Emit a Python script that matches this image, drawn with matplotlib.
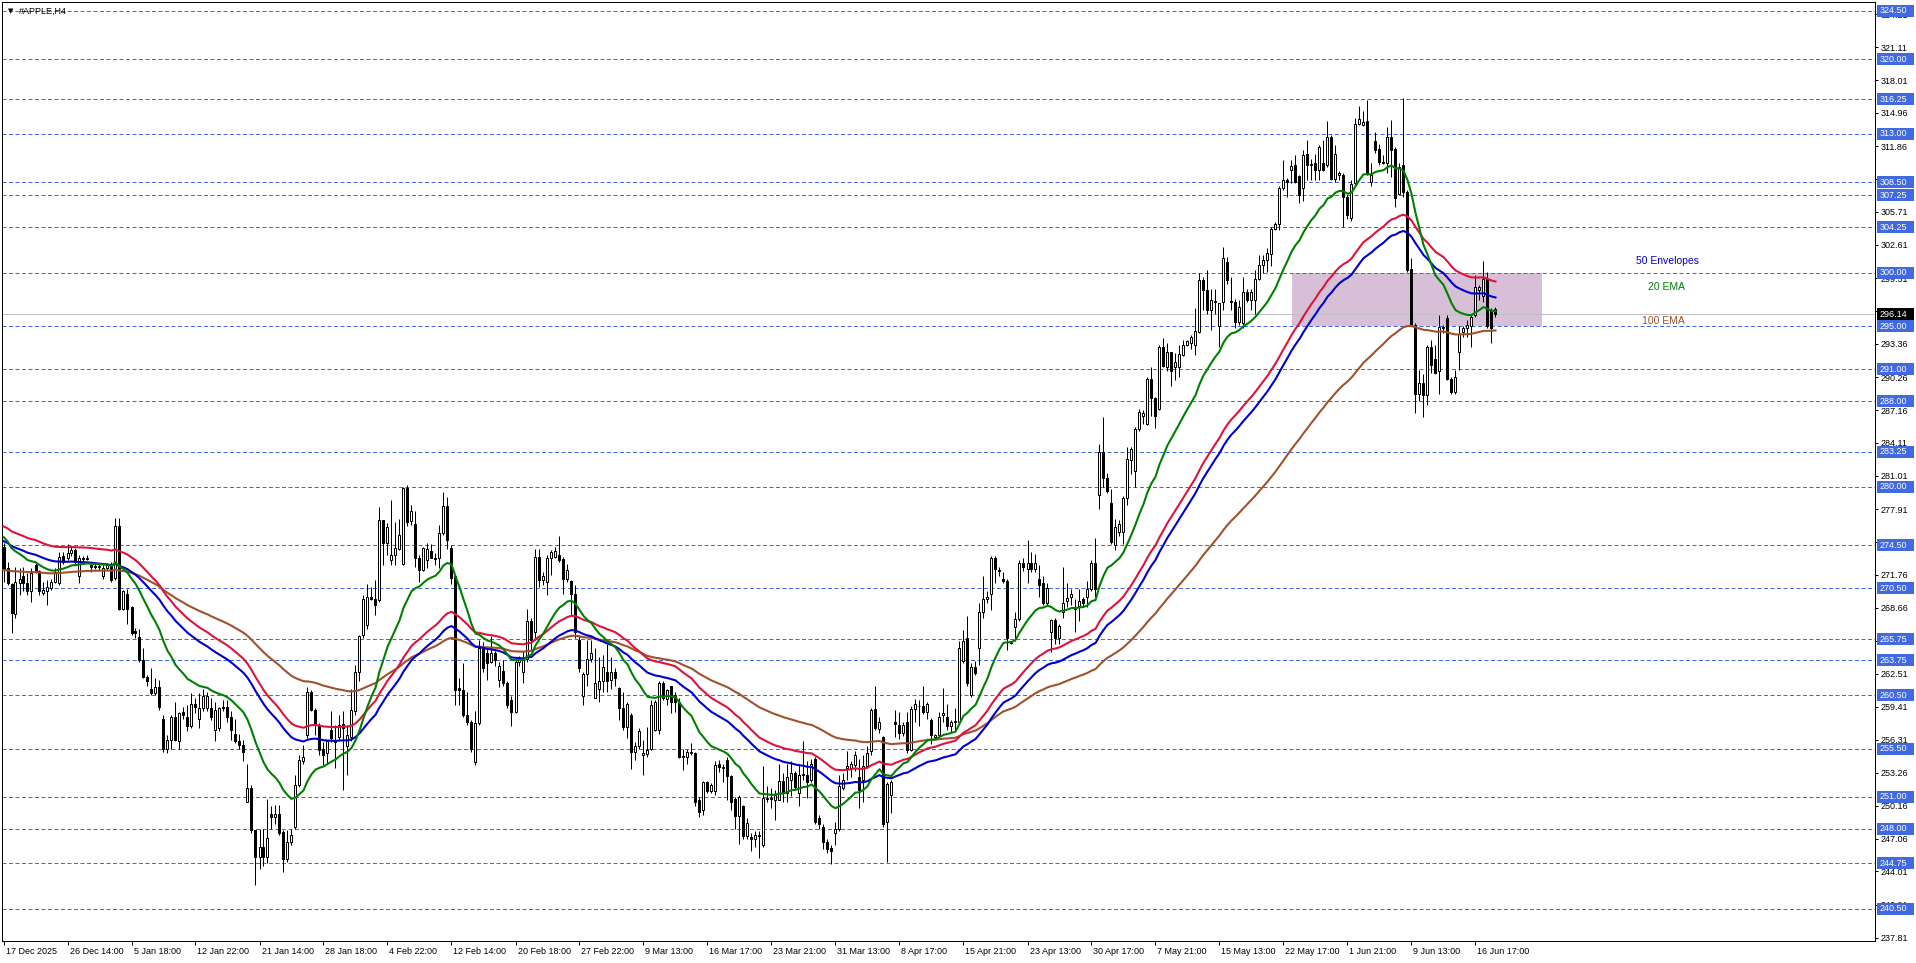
"""
plot.py - #APPLE,H4 MT4-style candlestick chart with 20 EMA, 50 Envelopes
and 100 EMA, horizontal level lines and a shaded supply/demand zone.
"""

import numpy as np
import matplotlib
matplotlib.use('Agg')
import matplotlib.pyplot as plt
import matplotlib.transforms as mtransforms
from matplotlib.patches import Rectangle

plt.rcParams['font.family'] = ['Liberation Sans', 'DejaVu Sans']

# ── Data (one H4 bar per entry) ──────────────────────────────────────────────

opens = [
    274.4, 272.4, 270.9, 268.1, 271.0, 271.6, 271.0, 270.2, 272.7, 272.1,
    270.1, 270.2, 270.5, 271.1, 271.0, 273.5, 273.3, 273.8, 274.1, 271.6,
    273.2, 273.3, 272.7, 272.6, 272.5, 271.6, 272.4, 272.8, 271.5, 276.3,
    268.6, 270.0, 268.7, 266.5, 265.9, 263.8, 262.2, 261.1, 260.7, 261.3,
    258.3, 255.5, 256.3, 258.5, 256.2, 258.9, 258.5, 257.6, 259.7, 258.3,
    259.3, 259.3, 259.3, 257.2, 257.4, 259.4, 259.4, 258.5, 256.9, 256.2,
    255.8, 250.5, 251.8, 247.9, 245.4, 246.3, 245.4, 249.4, 249.1, 249.4,
    247.7, 245.2, 246.8, 248.2, 252.1, 254.3, 256.8, 260.8, 259.1, 257.7,
    255.5, 255.1, 257.2, 256.1, 256.6, 257.8, 255.7, 256.6, 259.0, 262.7,
    266.1, 267.1, 269.7, 269.5, 269.4, 276.9, 274.7, 273.1, 273.6, 274.2,
    272.8, 279.9, 276.8, 276.5, 273.3, 272.2, 273.1, 274.0, 273.3, 273.3,
    275.7, 278.2, 274.3, 271.6, 261.2, 261.0, 258.6, 258.0, 254.2, 257.9,
    265.0, 264.4, 263.6, 264.4, 261.9, 262.8, 261.6, 260.0, 258.9, 263.6,
    262.7, 263.9, 267.4, 266.4, 273.4, 271.3, 271.1, 273.3, 273.4, 273.6,
    273.2, 271.4, 271.2, 270.0, 265.7, 260.4, 262.5, 263.9, 260.2, 261.1,
    261.8, 262.7, 261.9, 262.7, 261.2, 259.3, 257.5, 258.6, 255.2, 255.7,
    254.9, 255.0, 255.5, 257.2, 257.2, 261.6, 260.1, 261.4, 260.5, 259.9,
    254.8, 254.7, 255.1, 255.1, 250.7, 249.8, 252.4, 251.5, 251.5, 254.1,
    253.7, 254.4, 252.9, 250.8, 249.2, 250.1, 247.3, 247.2, 247.0, 247.4,
    246.5, 250.9, 250.9, 250.7, 250.7, 252.5, 251.3, 252.6, 253.2, 251.3,
    253.0, 253.0, 252.6, 254.5, 249.0, 248.2, 246.8, 246.2, 247.6, 248.0,
    251.8, 253.7, 253.7, 254.0, 252.8, 252.6, 253.9, 255.3, 259.2, 257.3,
    256.6, 248.6, 251.2, 258.0, 257.7, 257.0, 258.0, 255.4, 259.2, 259.5,
    259.5, 258.9, 258.2, 256.6, 256.8, 258.6, 258.5, 257.6, 258.0, 258.0,
    263.7, 265.8, 260.5, 263.1, 264.9, 268.3, 269.5, 270.0, 273.3, 272.2,
    271.4, 271.2, 265.4, 266.9, 267.6, 272.9, 272.3, 272.9, 272.3, 271.4,
    271.0, 269.1, 266.4, 267.5, 265.8, 268.3, 269.3, 269.7, 268.7, 268.8,
    269.5, 269.7, 270.4, 272.9, 279.2, 283.2, 280.8, 278.5, 274.5, 275.8,
    275.8, 278.9, 282.5, 281.5, 285.4, 286.6, 285.9, 290.1, 288.3, 287.3,
    293.1, 291.2, 292.6, 291.2, 291.2, 292.3, 293.3, 293.4, 293.3, 294.5,
    299.3, 298.4, 296.5, 297.3, 295.0, 297.3, 301.0, 297.4, 297.3, 295.4,
    295.3, 298.2, 297.5, 297.5, 299.4, 300.7, 301.2, 301.8, 304.1, 304.6,
    307.9, 308.7, 309.6, 310.1, 309.1, 307.9, 311.1, 310.1, 310.3, 309.6,
    310.3, 310.1, 312.7, 308.8, 309.2, 309.2, 307.1, 305.1, 308.4, 313.9,
    313.8, 314.2, 308.5, 312.3, 311.6, 310.4, 310.3, 312.7, 311.6, 307.4,
    310.1, 307.6, 300.4, 295.1, 288.7, 289.7, 288.6, 293.1, 291.9, 290.8,
    294.8, 295.8, 290.1, 288.9, 292.6, 294.5, 294.8, 295.0, 296.1, 298.4,
    297.8, 299.4, 296.5, 296.6,
]

highs = [
    274.7, 273.0, 271.0, 272.5, 272.4, 272.5, 271.9, 272.4, 273.0, 272.2,
    271.1, 271.3, 271.4, 272.4, 273.9, 273.9, 274.6, 274.4, 274.3, 273.6,
    273.5, 273.6, 273.0, 272.9, 272.8, 272.7, 272.8, 273.0, 277.1, 277.1,
    270.3, 270.4, 268.8, 266.8, 266.7, 264.9, 262.4, 263.0, 262.1, 261.9,
    258.6, 256.8, 258.6, 259.9, 258.9, 259.4, 259.6, 260.7, 260.2, 260.7,
    261.1, 260.8, 260.2, 259.9, 259.4, 260.0, 260.0, 259.0, 258.3, 256.9,
    256.3, 254.1, 252.1, 247.9, 248.0, 248.0, 250.8, 250.1, 250.2, 250.2,
    247.9, 247.9, 248.0, 253.0, 254.9, 255.8, 261.3, 261.0, 259.3, 257.9,
    256.1, 256.3, 259.0, 257.7, 258.6, 259.0, 257.7, 261.1, 263.3, 266.1,
    269.9, 270.9, 270.6, 271.3, 278.1, 276.9, 276.6, 278.8, 276.7, 277.0,
    280.0, 280.2, 278.3, 277.7, 273.6, 274.4, 274.7, 274.6, 273.8, 276.4,
    279.5, 279.0, 274.5, 271.7, 262.1, 263.5, 260.8, 258.2, 259.0, 265.7,
    265.5, 265.0, 266.0, 264.6, 263.6, 263.8, 261.8, 260.4, 263.9, 264.2,
    264.6, 268.6, 267.7, 274.2, 274.2, 272.0, 273.6, 274.1, 274.4, 275.4,
    273.4, 272.8, 271.3, 270.8, 266.1, 262.7, 265.7, 265.7, 264.9, 264.1,
    264.3, 265.3, 264.1, 263.0, 261.3, 260.8, 259.9, 258.8, 256.1, 257.4,
    256.3, 257.5, 260.0, 260.0, 261.8, 261.8, 261.1, 261.4, 260.8, 260.2,
    255.5, 255.5, 256.0, 255.2, 251.0, 252.5, 252.5, 252.3, 254.3, 254.4,
    254.1, 254.7, 253.0, 251.0, 251.2, 250.2, 249.0, 247.6, 247.8, 247.8,
    253.9, 252.0, 251.8, 251.6, 254.1, 253.2, 254.1, 254.3, 253.4, 254.1,
    256.2, 254.3, 254.5, 254.7, 249.3, 248.4, 247.0, 246.5, 248.6, 253.0,
    253.2, 255.3, 254.3, 255.3, 254.5, 254.9, 255.7, 259.3, 261.4, 258.5,
    256.7, 252.4, 252.6, 259.1, 258.9, 258.0, 258.9, 259.5, 260.1, 260.0,
    261.4, 259.9, 258.4, 256.9, 258.9, 261.2, 259.7, 258.2, 259.3, 265.6,
    266.6, 267.9, 263.5, 263.7, 269.1, 271.6, 270.2, 273.5, 273.5, 272.5,
    272.0, 271.4, 265.6, 268.3, 273.1, 273.3, 275.0, 273.9, 273.7, 272.7,
    271.6, 271.0, 267.6, 267.7, 267.2, 272.5, 271.0, 270.4, 269.5, 270.4,
    269.7, 271.2, 273.1, 275.2, 284.0, 286.5, 281.3, 279.8, 277.0, 276.9,
    279.1, 283.7, 283.7, 285.6, 287.3, 287.2, 290.3, 291.2, 288.4, 293.3,
    293.9, 293.4, 292.6, 292.5, 293.3, 293.7, 293.7, 294.2, 296.7, 300.0,
    299.6, 300.3, 298.5, 298.5, 297.2, 302.4, 301.5, 299.6, 297.6, 297.5,
    299.6, 298.5, 298.5, 300.3, 301.7, 301.7, 302.3, 304.3, 304.8, 308.1,
    310.6, 308.9, 310.6, 311.0, 309.2, 311.5, 312.4, 310.7, 311.1, 312.0,
    312.4, 314.2, 312.9, 312.0, 309.5, 309.3, 307.4, 308.7, 314.5, 315.6,
    315.1, 316.2, 310.3, 313.2, 312.1, 311.0, 313.6, 314.3, 311.8, 310.3,
    316.4, 307.8, 301.4, 295.3, 290.9, 290.5, 293.3, 293.7, 293.3, 296.1,
    295.1, 296.1, 290.3, 290.9, 295.0, 295.0, 295.6, 296.2, 299.8, 298.9,
    301.1, 300.1, 296.7, 296.8,
]

lows = [
    271.1, 270.8, 266.3, 267.7, 269.9, 270.2, 269.9, 269.2, 271.9, 269.9,
    269.9, 268.9, 270.3, 271.0, 270.8, 272.8, 273.1, 273.5, 272.8, 271.0,
    273.0, 273.1, 272.0, 272.3, 272.2, 271.4, 272.2, 271.1, 271.3, 268.5,
    268.5, 267.2, 266.1, 265.8, 263.6, 262.1, 261.4, 260.5, 260.5, 259.1,
    255.2, 255.1, 255.5, 256.2, 255.5, 258.3, 257.1, 257.4, 258.8, 257.4,
    259.0, 259.0, 258.2, 256.2, 257.1, 259.0, 258.0, 256.3, 256.0, 255.5,
    254.3, 250.5, 247.6, 242.7, 244.2, 244.5, 244.8, 248.0, 248.4, 247.4,
    244.0, 244.9, 246.5, 248.0, 251.9, 254.1, 256.5, 259.0, 256.8, 254.9,
    254.0, 254.1, 256.1, 253.7, 256.3, 251.6, 253.0, 256.2, 258.6, 261.8,
    265.8, 266.7, 269.4, 268.0, 269.2, 272.7, 273.6, 272.7, 272.7, 274.1,
    272.7, 276.3, 276.4, 272.5, 271.1, 272.1, 272.4, 273.3, 272.7, 272.4,
    275.5, 274.2, 270.9, 259.6, 259.6, 258.5, 257.7, 255.2, 254.0, 257.7,
    262.7, 261.9, 263.5, 263.2, 261.3, 261.4, 259.3, 257.6, 258.8, 263.2,
    261.6, 263.6, 264.7, 265.7, 270.6, 270.8, 269.9, 271.7, 273.3, 273.0,
    270.0, 271.1, 268.0, 265.8, 262.7, 259.6, 261.4, 263.6, 260.2, 259.9,
    260.8, 260.8, 261.1, 261.4, 258.2, 257.2, 256.5, 253.6, 254.4, 255.5,
    253.0, 254.7, 255.4, 257.1, 256.9, 260.0, 259.6, 258.8, 258.9, 254.6,
    253.5, 254.1, 254.9, 250.1, 249.1, 249.3, 251.3, 251.3, 251.2, 253.3,
    252.4, 250.7, 249.8, 248.0, 246.6, 247.0, 247.0, 245.9, 246.3, 245.3,
    246.3, 250.5, 249.9, 248.8, 250.7, 250.5, 250.5, 251.1, 251.6, 250.1,
    252.6, 250.9, 252.4, 248.4, 248.0, 246.1, 245.7, 244.7, 246.5, 247.8,
    251.6, 252.6, 252.8, 253.4, 249.9, 250.5, 253.7, 254.9, 257.2, 257.0,
    248.2, 244.9, 249.5, 256.6, 256.4, 256.7, 255.1, 255.3, 258.0, 257.6,
    258.7, 258.3, 255.9, 256.4, 256.6, 258.0, 257.2, 257.0, 257.2, 257.8,
    263.5, 261.4, 260.3, 262.4, 263.3, 267.7, 269.1, 268.5, 271.0, 271.6,
    271.0, 264.7, 265.3, 265.6, 267.4, 272.1, 271.0, 272.0, 272.0, 269.7,
    268.9, 268.9, 264.5, 265.3, 265.3, 267.7, 268.7, 268.9, 266.4, 267.4,
    268.7, 268.7, 270.2, 269.7, 277.9, 280.0, 279.4, 274.6, 274.1, 275.4,
    274.6, 278.3, 281.2, 280.0, 285.2, 285.9, 285.8, 286.6, 285.5, 287.2,
    291.2, 290.8, 289.4, 290.0, 290.3, 292.2, 293.2, 292.9, 292.3, 294.4,
    296.5, 296.2, 294.7, 296.2, 293.1, 296.5, 299.0, 296.5, 294.8, 295.1,
    294.8, 297.3, 296.5, 296.2, 299.3, 300.0, 300.1, 300.6, 304.0, 304.0,
    307.8, 307.1, 308.4, 308.4, 306.5, 306.7, 308.7, 308.7, 308.7, 308.7,
    309.5, 309.9, 308.7, 308.5, 308.7, 304.3, 305.0, 304.9, 308.2, 313.8,
    313.7, 309.2, 308.1, 311.2, 310.1, 310.2, 309.3, 309.0, 306.2, 307.3,
    307.1, 300.1, 295.0, 286.9, 288.0, 286.5, 287.6, 290.6, 290.5, 288.7,
    294.4, 290.0, 288.7, 288.7, 290.9, 294.0, 294.0, 293.1, 295.9, 297.5,
    297.3, 294.8, 293.4, 295.9,
]

closes = [
    272.2, 271.0, 268.2, 271.1, 271.4, 271.0, 270.2, 271.9, 272.1, 270.2,
    270.3, 270.6, 271.1, 272.0, 273.4, 273.0, 273.8, 274.1, 273.0, 273.3,
    273.3, 273.2, 272.5, 272.5, 272.6, 272.4, 272.7, 271.3, 276.3, 268.6,
    270.2, 268.6, 266.3, 266.3, 263.8, 262.2, 261.8, 260.7, 261.3, 259.4,
    255.5, 256.3, 258.5, 256.3, 258.8, 258.6, 257.6, 259.7, 259.4, 259.3,
    260.4, 260.4, 258.5, 259.1, 259.3, 259.3, 258.5, 257.2, 256.2, 255.8,
    255.2, 251.8, 247.9, 245.4, 246.3, 245.4, 247.1, 249.1, 249.4, 247.6,
    245.2, 246.8, 247.4, 252.1, 254.4, 254.7, 260.8, 259.1, 257.7, 255.4,
    254.9, 256.2, 256.5, 256.3, 257.7, 257.4, 256.8, 259.1, 262.7, 266.0,
    269.5, 269.7, 269.5, 268.9, 276.9, 274.7, 276.2, 273.6, 274.3, 275.5,
    279.9, 276.7, 277.7, 273.3, 272.2, 274.3, 274.2, 273.3, 273.2, 275.7,
    278.2, 275.0, 271.5, 261.0, 261.0, 258.6, 258.0, 255.5, 257.9, 264.9,
    263.0, 263.5, 264.4, 263.8, 263.2, 261.6, 259.6, 258.9, 263.6, 263.9,
    263.9, 267.4, 265.7, 273.4, 271.3, 271.6, 273.3, 273.9, 274.0, 273.1,
    271.4, 272.2, 270.0, 266.4, 263.0, 262.5, 263.9, 264.4, 261.6, 261.8,
    263.1, 261.8, 262.7, 262.1, 259.3, 257.5, 259.7, 255.2, 255.7, 257.1,
    255.1, 255.4, 259.6, 259.9, 261.6, 260.2, 261.0, 259.9, 259.9, 254.7,
    254.7, 255.2, 255.2, 250.5, 249.6, 252.4, 251.5, 252.1, 254.0, 253.8,
    253.8, 252.9, 250.5, 249.2, 251.0, 247.3, 248.5, 247.0, 247.4, 247.3,
    250.9, 250.8, 250.8, 251.2, 252.5, 251.3, 252.8, 253.2, 251.9, 253.0,
    253.1, 252.4, 254.1, 248.6, 248.4, 246.8, 246.1, 245.9, 248.0, 252.0,
    252.6, 253.9, 254.1, 254.9, 251.6, 253.9, 255.1, 259.1, 257.4, 258.0,
    248.4, 252.2, 252.4, 257.8, 257.0, 257.7, 255.4, 259.2, 259.7, 259.5,
    258.9, 259.7, 256.8, 256.8, 258.5, 258.8, 257.6, 258.0, 258.1, 264.9,
    265.6, 261.6, 263.1, 262.6, 268.3, 269.5, 269.7, 273.3, 272.3, 272.1,
    271.2, 265.8, 265.6, 267.6, 272.9, 272.5, 272.9, 272.3, 272.9, 270.8,
    269.1, 270.5, 267.5, 265.8, 267.0, 269.1, 269.6, 270.0, 268.6, 269.3,
    269.1, 270.4, 272.9, 270.4, 283.2, 280.8, 279.6, 274.8, 276.2, 276.5,
    278.9, 282.6, 283.5, 285.4, 287.0, 286.9, 290.1, 288.3, 286.6, 293.1,
    291.3, 292.6, 290.8, 291.7, 292.4, 293.3, 293.6, 294.0, 294.6, 299.3,
    298.4, 296.5, 297.5, 297.4, 297.2, 301.4, 299.3, 297.3, 295.4, 296.8,
    298.2, 297.5, 298.2, 299.4, 300.7, 301.2, 301.9, 304.1, 304.6, 307.9,
    308.7, 308.5, 310.0, 308.5, 307.3, 311.0, 310.1, 310.2, 309.6, 311.8,
    309.6, 312.7, 308.8, 311.1, 309.3, 307.1, 305.4, 308.3, 313.9, 314.4,
    314.1, 309.3, 309.2, 311.5, 310.4, 310.3, 312.7, 311.5, 307.0, 309.9,
    307.6, 300.3, 295.1, 288.7, 289.7, 288.6, 293.1, 291.4, 290.6, 294.9,
    294.9, 290.1, 288.9, 290.3, 294.3, 294.8, 295.1, 295.9, 298.7, 298.7,
    299.4, 295.0, 294.8, 296.14,
]

# indicator values on the first visible bar (history before it is off-screen)
EMA20_START = 275.3
ENV50_START = 275.6
EMA100_START = 272.2
ENV_DEVIATION = 0.0025

# horizontal levels drawn on the chart (blue dashed lines + blue price tags)
LEVELS = [324.50, 320.00, 316.25, 313.00, 308.50, 307.25, 304.25, 300.00,
          295.00, 291.00, 288.00, 283.25, 280.00, 274.50, 270.50, 265.75,
          263.75, 260.50, 255.50, 251.00, 248.00, 244.75, 240.50]

# automatic price-scale ticks
SCALE_TICKS = [237.81, 240.91, 244.01, 247.06, 250.16, 253.26, 256.31, 259.41,
               262.51, 265.56, 268.66, 271.76, 274.81, 277.91, 281.01, 284.11,
               287.16, 290.26, 293.36, 296.41, 299.51, 302.61, 305.71, 308.81,
               311.86, 314.96, 318.01, 321.11, 324.21]

LAST_PRICE = 296.14

TIME_LABELS = ['17 Dec 2025', '26 Dec 14:00', '5 Jan 18:00', '12 Jan 22:00',
               '21 Jan 14:00', '28 Jan 18:00', '4 Feb 22:00', '12 Feb 14:00',
               '20 Feb 18:00', '27 Feb 22:00', '9 Mar 13:00', '16 Mar 17:00',
               '23 Mar 21:00', '31 Mar 13:00', '8 Apr 17:00', '15 Apr 21:00',
               '23 Apr 13:00', '30 Apr 17:00', '7 May 21:00', '15 May 13:00',
               '22 May 17:00', '1 Jun 21:00', '9 Jun 13:00', '16 Jun 17:00']
BARS_PER_LABEL = 16

# shaded zone: bar range and price range
ZONE_BARS = (322.1, 384.6)
ZONE_PRICES = (295.00, 300.00)

# ── Styling ───────────────────────────────────────────────────────────────────

W_PX, H_PX = 1916, 963
AX_LEFT, AX_RIGHT, AX_TOP, AX_BOTTOM = 2, 1875, 2, 941   # pixel frame
PX_PER_BAR = 4
Y_TOP, Y_BOTTOM = 325.34, 237.50

LEVEL_BLUE = '#4169E1'
C_EMA20 = '#008000'
C_ENV_UP = '#DC143C'
C_ENV_DN = '#0000CD'
C_EMA100 = '#A0522D'
ZONE_COLOUR = '#D8BFD8'
LW = 0.72   # one pixel at 100 dpi


def ema(values, period, start):
    k = 2.0 / (period + 1)
    out = [start]
    for v in values[1:]:
        out.append(out[-1] + k * (v - out[-1]))
    return np.array(out)


def price_tag(ax, fig, price, text, fc, tc):
    trans = mtransforms.blended_transform_factory(fig.transFigure, ax.transData)
    h = 12 / ((AX_BOTTOM - AX_TOP) / (Y_TOP - Y_BOTTOM))
    ax.add_patch(Rectangle((1877 / W_PX, price - h / 2), 37 / W_PX, h,
                           transform=trans, facecolor=fc, edgecolor='none',
                           clip_on=False, zorder=6))
    ax.text(1880 / W_PX, price, text, transform=trans, color=tc,
            fontsize=6.5, ha='left', va='center', clip_on=False, zorder=7)


def main():
    n = len(closes)
    assert len(opens) == len(highs) == len(lows) == n
    idx = np.arange(n)
    o = np.array(opens)
    h = np.array(highs)
    l = np.array(lows)
    c = np.array(closes)

    fig = plt.figure(figsize=(W_PX / 100, H_PX / 100), dpi=100)
    ax = fig.add_axes([AX_LEFT / W_PX, 1 - AX_BOTTOM / H_PX,
                       (AX_RIGHT - AX_LEFT) / W_PX, (AX_BOTTOM - AX_TOP) / H_PX])

    # background zone and level lines
    ax.add_patch(Rectangle((ZONE_BARS[0], ZONE_PRICES[0]),
                           ZONE_BARS[1] - ZONE_BARS[0],
                           ZONE_PRICES[1] - ZONE_PRICES[0],
                           facecolor=ZONE_COLOUR, edgecolor='none', zorder=0.5))
    for lv in LEVELS:
        ax.axhline(lv, color=LEVEL_BLUE, linewidth=LW, linestyle=(0, (4, 2.5)),
                   zorder=1)
    ax.axhline(LAST_PRICE, color='#C0C0C0', linewidth=LW, zorder=1)

    # candles
    bull = c >= o
    ax.vlines(idx, l, h, color='black', linewidth=LW, zorder=2)
    ax.bar(idx, np.maximum(np.abs(c - o), 0.02), bottom=np.minimum(o, c),
           width=0.5, color=np.where(bull, 'white', 'black'),
           edgecolor='black', linewidth=LW, zorder=3)

    # indicators
    ema20 = ema(closes, 20, EMA20_START)
    env_mid = ema(closes, 50, ENV50_START)
    ema100 = ema(closes, 100, EMA100_START)
    ax.plot(idx, ema100, color=C_EMA100, linewidth=1.5, zorder=4)
    ax.plot(idx, env_mid * (1 + ENV_DEVIATION), color=C_ENV_UP, linewidth=1.5, zorder=4)
    ax.plot(idx, env_mid * (1 - ENV_DEVIATION), color=C_ENV_DN, linewidth=1.5, zorder=4)
    ax.plot(idx, ema20, color=C_EMA20, linewidth=1.5, zorder=4)

    # indicator captions
    ax.text(408.1, 301.07, '50 Envelopes', color=C_ENV_DN, fontsize=7.5,
            ha='left', va='center', zorder=5)
    ax.text(411.1, 298.68, '20 EMA', color=C_EMA20, fontsize=7.5,
            ha='left', va='center', zorder=5)
    ax.text(409.6, 295.50, '100 EMA', color=C_EMA100, fontsize=7.5,
            ha='left', va='center', zorder=5)

    # axes limits: bar 0 centred 1.5 px right of the frame
    x0 = -1.5 / PX_PER_BAR
    ax.set_xlim(x0, x0 + (AX_RIGHT - AX_LEFT) / PX_PER_BAR)
    ax.set_ylim(Y_BOTTOM, Y_TOP)

    for s in ax.spines.values():
        s.set_color('black')
        s.set_linewidth(LW)

    # price scale on the right
    ax.yaxis.tick_right()
    ax.set_yticks(SCALE_TICKS, labels=[f'{v:.2f}' for v in SCALE_TICKS])
    ax.tick_params(axis='y', direction='out', length=2.5, width=LW, pad=1.5,
                   labelsize=6.5, colors='black')

    # time scale
    ticks = [i * BARS_PER_LABEL for i in range(len(TIME_LABELS))]
    ax.set_xticks(ticks, labels=TIME_LABELS)
    ax.tick_params(axis='x', direction='out', length=3, width=LW, pad=1.5,
                   labelsize=6.5, colors='black')
    shift = mtransforms.ScaledTranslation(2 / 100, 0, fig.dpi_scale_trans)
    for tick in ax.xaxis.get_major_ticks():
        tick.label1.set_horizontalalignment('left')
        tick.label1.set_transform(tick.label1.get_transform() + shift)

    # price tags
    for lv in LEVELS:
        price_tag(ax, fig, lv, f'{lv:.2f}', LEVEL_BLUE, 'white')
    price_tag(ax, fig, LAST_PRICE, f'{LAST_PRICE:.2f}', 'black', 'white')

    # symbol caption
    fig.text(8 / W_PX, 1 - 11 / H_PX, '\u25bc', fontsize=5, ha='left',
             va='center', family='DejaVu Sans')
    fig.text(19 / W_PX, 1 - 11 / H_PX, '#APPLE,H4', fontsize=6.5, ha='left',
             va='center')

    fig.savefig('out.png', dpi=100)


if __name__ == '__main__':
    main()
